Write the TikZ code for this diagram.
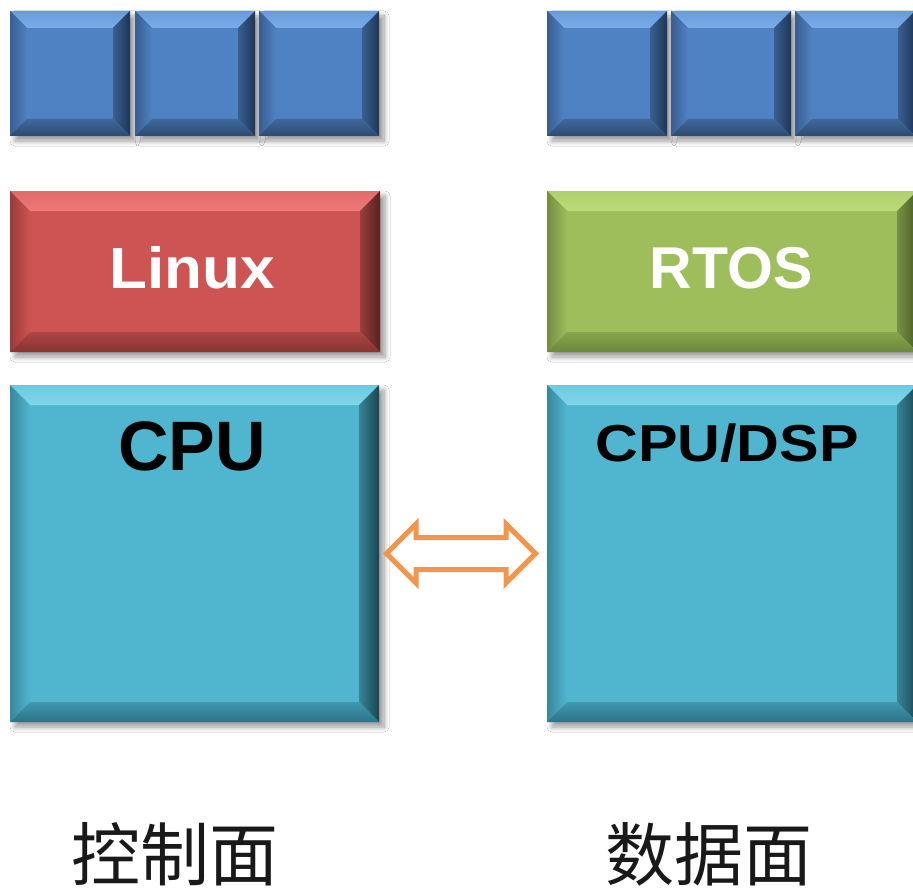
\documentclass[tikz,border=0pt]{standalone}
\usepackage{fontspec}
\setmainfont{Liberation Sans}
\newfontfamily\cjk{Noto Sans CJK SC}
\usetikzlibrary{calc,shapes.arrows,shadows.blur}
\definecolor{blueM}{HTML}{4F82C2}
\definecolor{blueT}{HTML}{7AACEA}
\definecolor{blueL}{HTML}{4675B2}
\definecolor{blueR}{HTML}{1E3656}
\definecolor{blueB}{HTML}{2C4A70}
\definecolor{redM}{HTML}{CD5452}
\definecolor{redT}{HTML}{EE7A78}
\definecolor{redL}{HTML}{BF4A48}
\definecolor{redR}{HTML}{5A2220}
\definecolor{redB}{HTML}{873432}
\definecolor{grnM}{HTML}{9DBE5B}
\definecolor{grnT}{HTML}{BBDB78}
\definecolor{grnL}{HTML}{90B050}
\definecolor{grnR}{HTML}{4A5C26}
\definecolor{grnB}{HTML}{6C873A}
\definecolor{cyaM}{HTML}{50B6D0}
\definecolor{cyaT}{HTML}{80D6EC}
\definecolor{cyaL}{HTML}{47A9C3}
\definecolor{cyaR}{HTML}{1A4652}
\definecolor{cyaB}{HTML}{2C7387}
\definecolor{arrowO}{HTML}{F3964C}
\newcommand\bevelbox[3]{%
  \shade[top color=#2M!40!#2T, bottom color=#2T] (#1.north west) -- (#1.north east) -- ($(#1.north east)+(-#3,#3)$) -- ($(#1.north west)+(#3,#3)$) -- cycle;
  \shade[left color=#2L!80!black, right color=#2M] (#1.north west) -- ($(#1.north west)+(#3,#3)$) -- ($(#1.south west)+(#3,-#3)$) -- (#1.south west) -- cycle;
  \shade[left color=#2M!55!#2R, right color=#2R] (#1.north east) -- ($(#1.north east)+(-#3,#3)$) -- ($(#1.south east)+(-#3,-#3)$) -- (#1.south east) -- cycle;
  \shade[top color=#2M!55!#2B, bottom color=#2B] (#1.south west) -- ($(#1.south west)+(#3,-#3)$) -- ($(#1.south east)+(-#3,-#3)$) -- (#1.south east) -- cycle;
}
\tikzset{
  tile/.style={inner sep=0pt, outer sep=0pt, draw=none,
    blur shadow={shadow xshift=5pt, shadow yshift=-5pt, shadow blur steps=10, shadow opacity=40, shadow blur radius=5pt}},
  sq/.style={tile, fill=blueM, minimum width=120pt, minimum height=125pt},
  osbox/.style={tile, minimum width=370pt, minimum height=161pt},
  cpubox/.style={tile, fill=cyaM, minimum height=337pt},
  lbl/.style={anchor=base, inner sep=0pt},
  cjklbl/.style={anchor=base, inner sep=0pt, font=\cjk\fontsize{69}{80}\selectfont, text=black!90},
  link/.style={double arrow, draw=arrowO, fill=white, line width=5pt, inner xsep=0pt, inner ysep=13.5pt,
    minimum height=149pt, double arrow head extend=13.5pt, double arrow tip angle=90}
}
\begin{document}
\begin{tikzpicture}[x=1pt,y=-1pt]
\clip (0,0) rectangle (913,888);
\fill[white] (0,0) rectangle (913,888);
% top squares
\node[sq] (s1) at (70,73.5) {};
\node[sq] (s2) at (195,73.5) {};
\node[sq] (s3) at (319,73.5) {};
\node[sq] (s4) at (607,73.5) {};
\node[sq] (s5) at (731,73.5) {};
\node[sq] (s6) at (855,73.5) {};
\foreach \n in {s1,s2,s3,s4,s5,s6} {\bevelbox{\n}{blue}{17}}
% OS boxes
\node[osbox, fill=redM] (linux) at (195,271.5) {};
\node[osbox, fill=grnM] (rtos) at (732,271.5) {};
\bevelbox{linux}{red}{20}
\bevelbox{rtos}{grn}{20}
% CPU boxes
\node[cpubox, minimum width=369pt] (cpu) at (194.5,553.5) {};
\node[cpubox, minimum width=370pt] (dsp) at (732,553.5) {};
\bevelbox{cpu}{cya}{20}
\bevelbox{dsp}{cya}{20}
% labels
\node[lbl, text=white, font=\bfseries\fontsize{58}{70}\selectfont, xscale=1.07] (linuxt) at (192,288) {Linux};
\node[lbl, text=white, font=\bfseries\fontsize{59}{70}\selectfont] (rtost) at (731,288) {RTOS};
\node[lbl, text=black, font=\bfseries\fontsize{70}{84}\selectfont] (cput) at (192,470) {CPU};
\node[lbl, text=black, font=\bfseries\fontsize{52}{62}\selectfont, xscale=1.14] (dspt) at (727,461) {CPU/DSP};
% link arrow between the two processor boxes
\node[link] (lnk) at ($(cpu.east)!0.5!(dsp.west)+(-2,0)$) {};
% captions
\node[cjklbl] (ctrl) at (175,880) {控制面};
\node[cjklbl] (data) at (709,880) {数据面};
\end{tikzpicture}
\end{document}
